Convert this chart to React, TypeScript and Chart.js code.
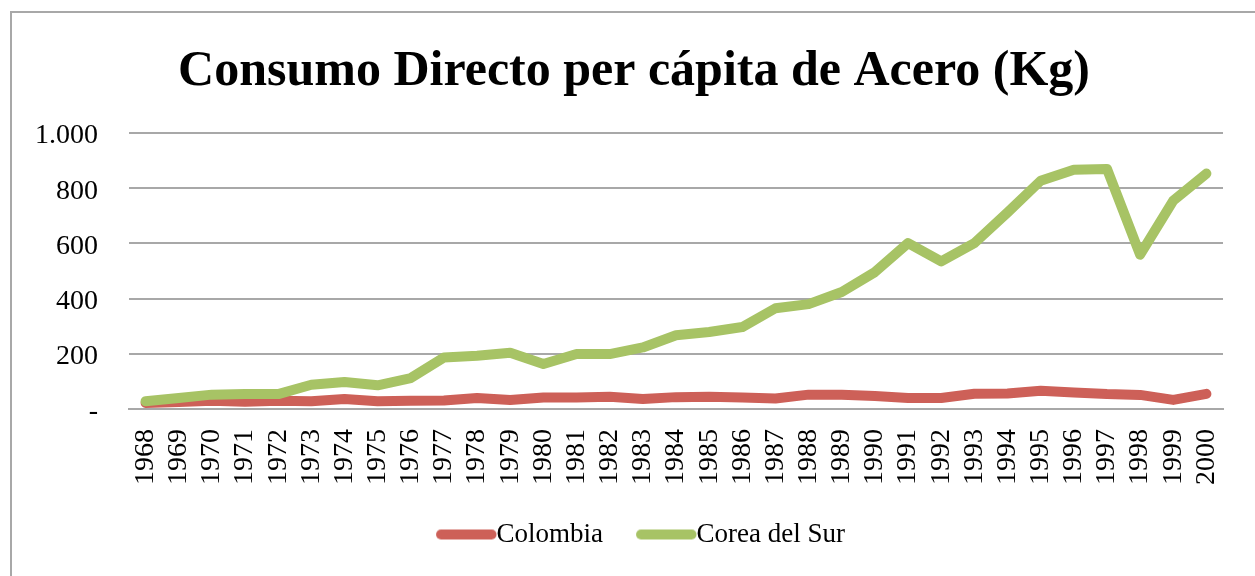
import React, { useEffect, useRef } from 'react';
import { Chart, registerables } from 'chart.js';

Chart.register(...registerables);

const years = [
  '1968', '1969', '1970', '1971', '1972', '1973', '1974', '1975', '1976', '1977', '1978',
  '1979', '1980', '1981', '1982', '1983', '1984', '1985', '1986', '1987', '1988', '1989',
  '1990', '1991', '1992', '1993', '1994', '1995', '1996', '1997', '1998', '1999', '2000',
];

const colombia = [
  22, 25, 30, 26, 30, 28, 36, 28, 30, 31, 40,
  33, 42, 42, 44, 36, 43, 44, 42, 38, 52, 52,
  47, 40, 40, 55, 56, 66, 60, 54, 51, 33, 55,
];

const coreaDelSur = [
  28, 40, 52, 54, 54, 88, 98, 86, 112, 187, 193,
  204, 163, 199, 199, 223, 267, 279, 297, 365, 380, 424,
  496, 601, 535, 601, 712, 827, 867, 870, 559, 755, 853,
];

const yTickValues = [0, 200, 400, 600, 800, 1000];
const yTickLabels = ['-', '200', '400', '600', '800', '1.000'];

const titleText = 'Consumo Directo per cápita de Acero (Kg)';
const seriesNames = ['Colombia', 'Corea del Sur'];
const seriesColors = ['#CD6058', '#A7C365'];

const SERIF = "'Liberation Serif', 'Times New Roman', serif";

function makeLegendLine(color: string): HTMLCanvasElement {
  const c = document.createElement('canvas');
  c.width = 90;
  c.height = 12;
  const g = c.getContext('2d');
  if (g) {
    g.strokeStyle = color;
    g.lineWidth = 10;
    g.lineCap = 'round';
    g.beginPath();
    g.moveTo(33, 6);
    g.lineTo(83.5, 6);
    g.stroke();
  }
  return c;
}

export default function App() {
  const canvasRef = useRef<HTMLCanvasElement | null>(null);

  useEffect(() => {
    const canvas = canvasRef.current;
    if (!canvas) return;
    const legendImgs = seriesColors.map((c) => makeLegendLine(c));
    const chart = new Chart(canvas, {
      type: 'line',
      data: {
        labels: years,
        datasets: [
          {
            label: seriesNames[0],
            data: colombia,
            borderColor: seriesColors[0],
            backgroundColor: seriesColors[0],
            borderWidth: 10,
            borderCapStyle: 'round',
            borderJoinStyle: 'round',
            pointRadius: 0,
            pointHoverRadius: 0,
            tension: 0,
            order: 1,
            yAxisID: 'y',
          },
          {
            label: seriesNames[1],
            data: coreaDelSur,
            borderColor: seriesColors[1],
            backgroundColor: seriesColors[1],
            borderWidth: 10,
            borderCapStyle: 'round',
            borderJoinStyle: 'round',
            pointRadius: 0,
            pointHoverRadius: 0,
            tension: 0,
            order: 0,
            yAxisID: 'y',
          },
        ],
      },
      options: {
        animation: false,
        responsive: false,
        maintainAspectRatio: false,
        events: [],
        layout: {
          padding: { left: 29, right: 16, top: 0, bottom: 18 },
        },
        plugins: {
          tooltip: { enabled: false },
          title: {
            display: true,
            text: titleText,
            color: '#000',
            font: { family: SERIF, size: 50, weight: 'bold', lineHeight: 1.2 },
            padding: { top: 42, bottom: 31 },
          },
          legend: {
            display: true,
            position: 'bottom',
            labels: {
              color: '#000',
              font: { family: SERIF, size: 27 },
              usePointStyle: true,
              pointStyleWidth: 60,
              padding: 20,
              sort: (a: any, b: any) => a.datasetIndex - b.datasetIndex,
              generateLabels: (ch: any) => {
                const items = (Chart as any).defaults.plugins.legend.labels.generateLabels(ch);
                return items.map((it: any) => ({ ...it, pointStyle: legendImgs[it.datasetIndex] }));
              },
            },
          },
        },
        scales: {
          x: {
            type: 'category',
            offset: true,
            grid: { display: false, drawTicks: false },
            border: { display: true, color: '#A8A8A8', width: 2 },
            ticks: {
              color: '#000',
              font: { family: SERIF, size: 28, lineHeight: 0.95 },
              maxRotation: 90,
              minRotation: 90,
              autoSkip: false,
              padding: 20,
            },
            afterFit: (s: any) => {
              s.height = 92;
            },
          },
          y: {
            type: 'linear',
            position: 'left',
            min: 0,
            max: 1000,
            afterBuildTicks: (s: any) => {
              s.ticks = yTickValues.map((v) => ({ value: v }));
            },
            grid: { color: '#A8A8A8', lineWidth: 2, drawTicks: false },
            border: { display: false },
            ticks: {
              color: '#000',
              font: { family: SERIF, size: 28 },
              padding: 31,
              labelOffset: 3,
              callback: (value: any) => {
                const i = yTickValues.indexOf(Number(value));
                return i >= 0 ? yTickLabels[i] : '';
              },
            },
            afterFit: (s: any) => {
              s.width = 100;
            },
          },
          yRightSpacer: {
            type: 'linear',
            position: 'right',
            display: true,
            grid: { display: false, drawTicks: false },
            border: { display: false },
            ticks: { display: false },
            afterFit: (s: any) => {
              s.width = 16;
            },
          },
        },
      },
    });
    return () => chart.destroy();
  }, []);

  return (
    <div
      style={{
        position: 'fixed',
        left: 0,
        top: 0,
        width: 1255,
        height: 576,
        overflow: 'hidden',
        background: '#fff',
      }}
    >
      <div
        style={{
          position: 'absolute',
          left: 10,
          top: 11,
          width: 1300,
          height: 700,
          border: '2px solid #A8A8A8',
          boxSizing: 'border-box',
        }}
      />
      <canvas
        ref={canvasRef}
        width={1255}
        height={576}
        style={{ position: 'absolute', left: 0, top: 0, width: 1255, height: 576 }}
      />
    </div>
  );
}
